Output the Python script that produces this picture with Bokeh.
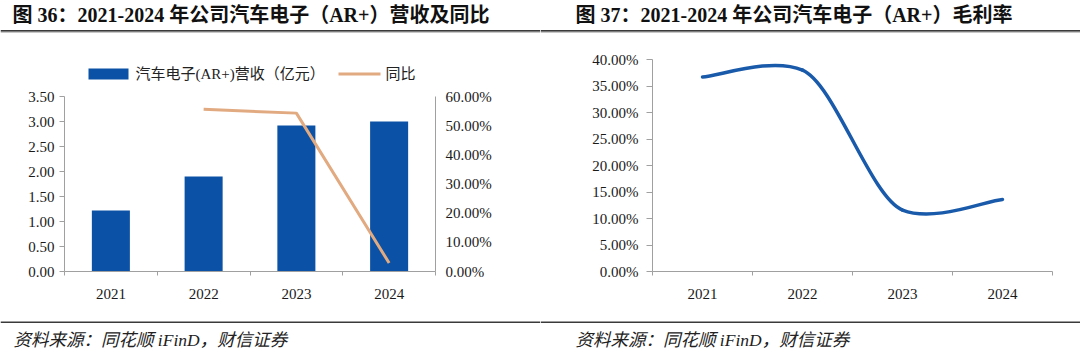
from bokeh.plotting import figure
from bokeh.models import (Range1d, LinearAxis, FixedTicker, PrintfTickFormatter,
                          NumeralTickFormatter, ColumnDataSource)
from bokeh.core.properties import value
from bokeh.layouts import row, column
from bokeh.embed import file_html
from bokeh.resources import INLINE

# ---------------- data ----------------
years = ["2021", "2022", "2023", "2024"]
revenue = [1.22, 1.90, 2.92, 3.00]          # 亿元
yoy_years = ["2022", "2023", "2024"]
yoy = [55.6, 54.3, 2.9]                     # %
margin = [36.7, 38.0, 11.6, 13.6]           # %

rev_ticks = [0, 0.5, 1.0, 1.5, 2.0, 2.5, 3.0, 3.5]
yoy_ticks = [0, 10, 20, 30, 40, 50, 60]
margin_ticks = [0, 5, 10, 15, 20, 25, 30, 35, 40]

title_left = "图 36：2021-2024 年公司汽车电子（AR+）营收及同比"
title_right = "图 37：2021-2024 年公司汽车电子（AR+）毛利率"
legend_bar = "汽车电子(AR+)营收（亿元）"
legend_line = "同比"
source_text = "资料来源：同花顺 iFinD，财信证券"

# ---------------- styles ----------------
W = 540
FONT = "'Liberation Serif', 'Noto Sans CJK SC'"
BAR_COLOR = "#0B52A6"
YOY_COLOR = "#E2AA80"
MARGIN_COLOR = "#1A5AAB"
AXIS_COLOR = "#A0A0A0"
TEXT_COLOR = "#1a1a1a"

pos = {y: i + 0.5 for i, y in enumerate(years)}
xs = [pos[y] for y in years]


def blank(height):
    """a strip whose frame fills the canvas; data units equal pixels (y downwards)"""
    p = figure(width=W, height=height, output_backend="svg", toolbar_location=None,
               x_range=Range1d(0, W), y_range=Range1d(height, 0),
               x_axis_type=None, y_axis_type=None, frame_align=False,
               min_border_left=0, min_border_right=0, min_border_top=0, min_border_bottom=0)
    p.outline_line_color = None
    p.grid.visible = False
    p.background_fill_color = "white"
    p.border_fill_color = "white"
    return p


def put_text(p, x, y, text, size, style="normal", color=TEXT_COLOR):
    p.text(x=[x], y=[y], text=[text], text_font=value(FONT), text_font_size=value(size),
           text_font_style=style, text_color=color, text_baseline="middle", text_align="left")


def put_rect(p, left, right, top, bottom, color):
    p.quad(left=[left], right=[right], top=[top], bottom=[bottom], fill_color=color, line_color=None)


def header(height, title, title_x):
    p = blank(height)
    put_text(p, title_x, 14, title, "20px", style="bold", color="#111111")
    put_rect(p, 0, W, 29.5, 31.2, "#3a3a3a")
    put_rect(p, 0, W, 31.2, 32.2, "#b5b5b5")
    return p


def footer(source_x):
    p = blank(49)          # page rows 310..359
    put_rect(p, 0, W, 11, 12.6, "#3a3a3a")
    put_text(p, source_x, 29, source_text, "17.5px", style="italic", color="#222222")
    return p


def style_x_axis(ax):
    ax.ticker = FixedTicker(ticks=xs, minor_ticks=[0, 1, 2, 3, 4])
    ax.major_label_overrides = {pos[y]: y for y in years}
    ax.major_tick_line_color = None
    ax.minor_tick_out = 4
    ax.minor_tick_in = 0
    ax.minor_tick_line_color = AXIS_COLOR
    ax.axis_line_color = AXIS_COLOR
    ax.major_label_standoff = 11
    ax.major_label_text_font = FONT
    ax.major_label_text_font_size = "15px"
    ax.major_label_text_color = TEXT_COLOR


def style_y_axis(ax, tick_out, standoff):
    ax.axis_line_color = AXIS_COLOR
    ax.major_tick_out = tick_out
    ax.major_tick_in = 0
    ax.major_tick_line_color = AXIS_COLOR if tick_out > 0 else None
    ax.minor_tick_line_color = None
    ax.major_label_standoff = standoff
    ax.major_label_text_font = FONT
    ax.major_label_text_font_size = "15px"
    ax.major_label_text_color = TEXT_COLOR


def chart(height, left, right, top, bottom, y_end):
    p = figure(width=W, height=height, output_backend="svg", toolbar_location=None,
               x_range=Range1d(0, 4), y_range=Range1d(0, y_end), frame_align=False,
               min_border_left=left, min_border_right=right,
               min_border_top=top, min_border_bottom=bottom)
    p.outline_line_color = None
    p.grid.visible = False
    p.background_fill_color = "white"
    p.border_fill_color = "white"
    return p


# ---------------- left panel ----------------
h1 = header(86, title_left, 12)
# legend (page row 73.5)
put_rect(h1, 88, 128, 68, 79, BAR_COLOR)
put_text(h1, 135, 73.5, legend_bar, "15px", color="#222222")
put_rect(h1, 338, 380, 72, 75, YOY_COLOR)
put_text(h1, 385, 73.5, legend_line, "15px", color="#222222")

# frame: page x 64..435, page y 96..271  (strip starts at page y 86, ends at 310)
p1 = chart(224, 64, W - 435, 10, 39, 3.5)
p1.extra_y_ranges = {"pct": Range1d(0, 60)}
src_bar = ColumnDataSource(dict(x=xs, top=revenue))
p1.vbar(x="x", top="top", width=0.41, bottom=0, source=src_bar,
        fill_color=BAR_COLOR, line_color=None)
src_yoy = ColumnDataSource(dict(x=[pos[y] for y in yoy_years], y=yoy))
p1.line(x="x", y="y", source=src_yoy, line_color=YOY_COLOR, line_width=3,
        y_range_name="pct")
style_x_axis(p1.xaxis[0])
p1.yaxis[0].ticker = FixedTicker(ticks=rev_ticks)
p1.yaxis[0].formatter = NumeralTickFormatter(format="0.00")
style_y_axis(p1.yaxis[0], 5, 5)
ax_r = LinearAxis(y_range_name="pct", ticker=FixedTicker(ticks=yoy_ticks),
                  formatter=PrintfTickFormatter(format="%.2f%%"))
style_y_axis(ax_r, 0, 10)
p1.add_layout(ax_r, "right")

f1 = footer(13)

# ---------------- right panel ----------------
h2 = header(49, title_right, 35)

# frame: page x 652..1052, page y 59..271 (strip starts at page y 49, ends at 310)
p2 = chart(261, 112, W - 512, 10, 39, 40)
n = len(xs)
seg = dict(x0=[], y0=[], x1=[], y1=[], cx0=[], cy0=[], cx1=[], cy1=[])
k = 10.0   # smoothing tension of the curve
for i in range(n - 1):
    xm, ym = (xs[i - 1], margin[i - 1]) if i > 0 else (xs[i], margin[i])
    xp, yp = (xs[i + 2], margin[i + 2]) if i + 2 < n else (xs[i + 1], margin[i + 1])
    seg["x0"].append(xs[i]); seg["y0"].append(margin[i])
    seg["x1"].append(xs[i + 1]); seg["y1"].append(margin[i + 1])
    seg["cx0"].append(xs[i] + (xs[i + 1] - xm) / k * 1.6)
    seg["cy0"].append(margin[i] + (margin[i + 1] - ym) / k)
    seg["cx1"].append(xs[i + 1] - (xp - xs[i]) / k * 1.6)
    seg["cy1"].append(margin[i + 1] - (yp - margin[i]) / k)
p2.bezier(source=ColumnDataSource(seg), x0="x0", y0="y0", x1="x1", y1="y1",
          cx0="cx0", cy0="cy0", cx1="cx1", cy1="cy1",
          line_color=MARGIN_COLOR, line_width=3.5, line_cap="round")
style_x_axis(p2.xaxis[0])
p2.yaxis[0].ticker = FixedTicker(ticks=margin_ticks)
p2.yaxis[0].formatter = PrintfTickFormatter(format="%.2f%%")
style_y_axis(p2.yaxis[0], 6, 8)

f2 = footer(35)

layout = row(column(h1, p1, f1), column(h2, p2, f2))
open("out.html", "w").write(file_html(layout, INLINE))
